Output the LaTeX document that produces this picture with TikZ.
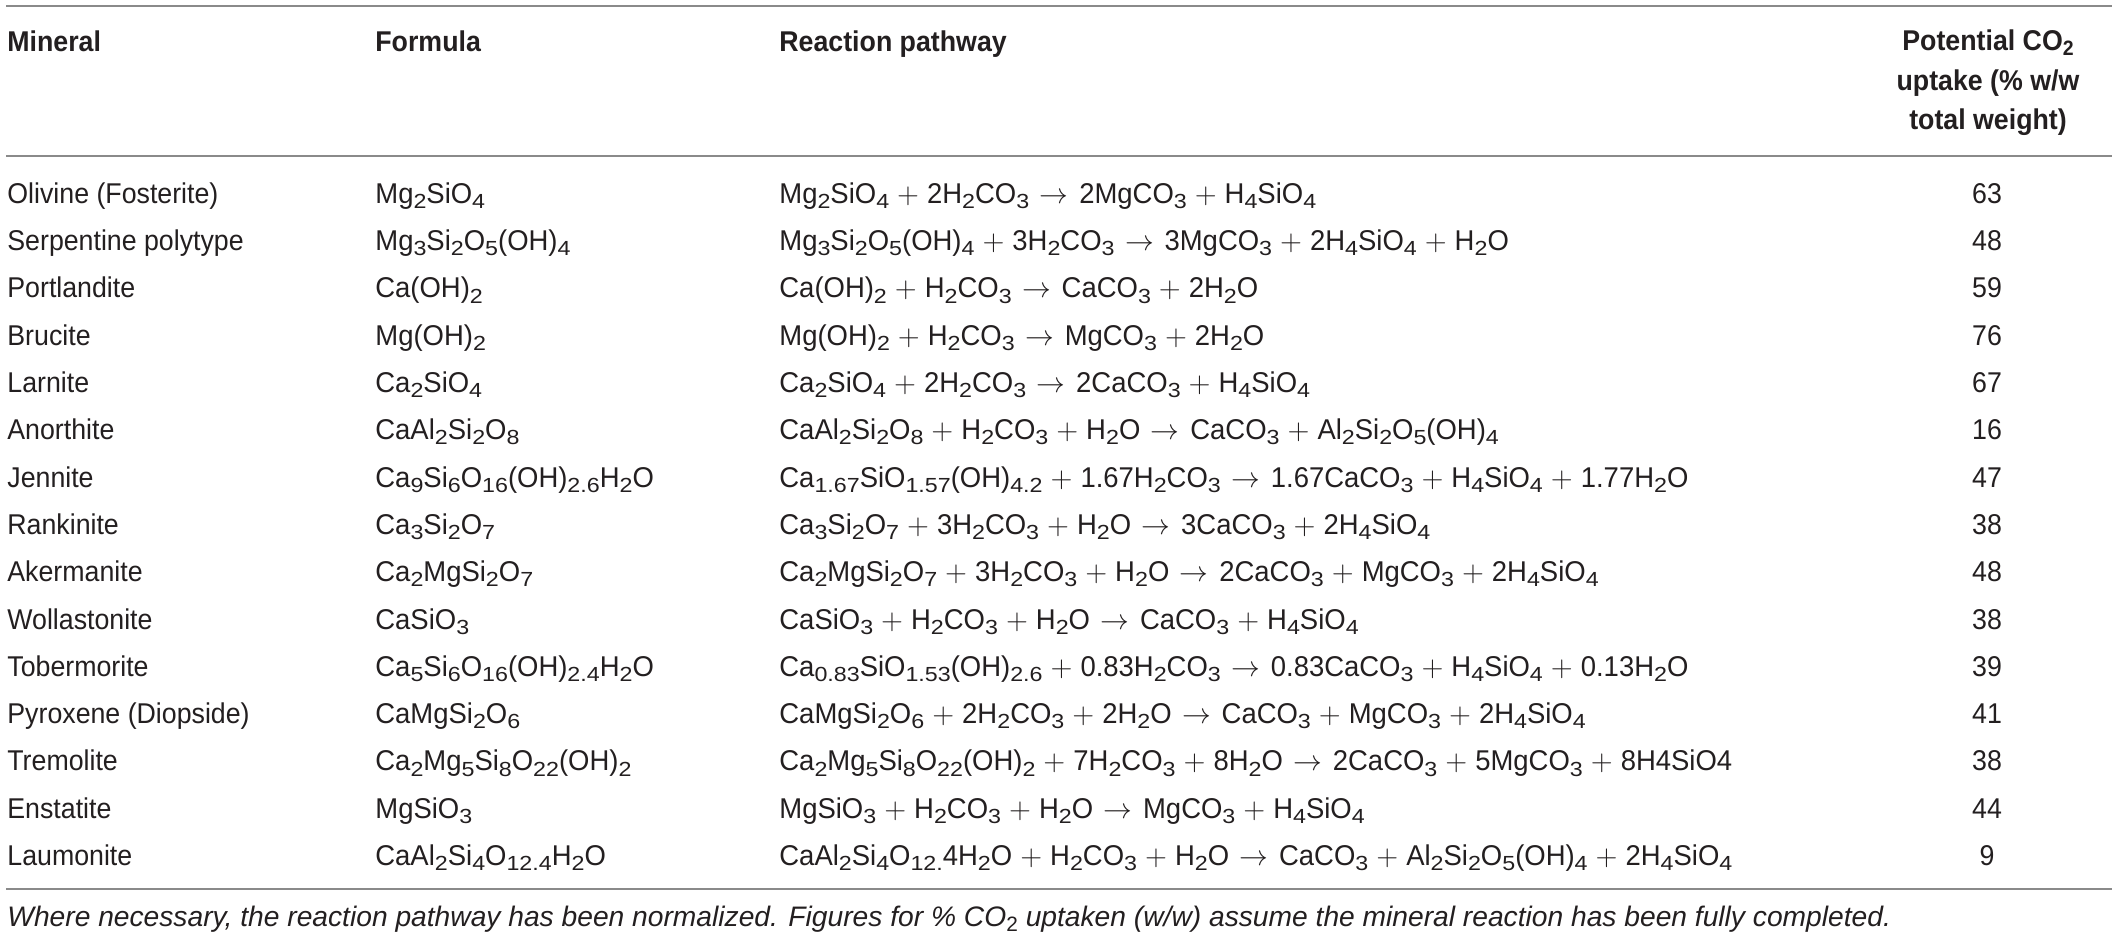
\documentclass[tikz,border=0pt]{standalone}
\usepackage[no-math]{fontspec}
\setmainfont{Liberation Sans}[FakeStretch=0.935]
\newfontfamily\notefam{Liberation Sans}
\newfontfamily\chemfam{Liberation Sans}[FakeStretch=0.96]
\newfontfamily\subfam{Liberation Sans}[FakeStretch=1.14]
\definecolor{txt}{HTML}{231F20}
\definecolor{rulecol}{HTML}{8A8A8A}
\newcommand{\bodyfont}{\fontsize{14.3}{17}\selectfont}
\newcommand{\chemfont}{\chemfam\fontsize{14.3}{17}\selectfont}
\newcommand{\headfont}{\fontsize{14.3}{19.75}\selectfont\bfseries}
\newcommand{\notefont}{\notefam\fontsize{14.1}{16}\selectfont\itshape}
\newcommand{\su}[1]{\raisebox{-0.34ex}{\subfam\fontsize{10.2}{10}\selectfont #1}}
\newcommand{\hsu}[1]{\raisebox{-0.32ex}{\fontsize{10.4}{10}\selectfont\bfseries #1}}
\newcommand{\nsu}[1]{\raisebox{-0.32ex}{\fontsize{10.4}{10}\selectfont\upshape #1}}
\newcommand{\pl}{\hspace{4pt}$+$\hspace{4pt}}
\newcommand{\ar}{\hspace{5.3pt}$\rightarrow$\hspace{5.3pt}}
\newcommand{\trow}[6]{%
  \node[cell] (m#1) at (7,#2) {#3};
  \node[chem] (f#1) at (375,#2) {#4};
  \node[chem] (r#1) at (779,#2) {#5};
  \node[num]  (v#1) at (1987,#2) {#6};}
\tikzset{
  cell/.style={anchor=base west, inner sep=0pt, font=\bodyfont, text=txt},
  chem/.style={anchor=base west, inner sep=0pt, font=\chemfont, text=txt},
  num/.style={anchor=base, inner sep=0pt, font=\bodyfont, text=txt},
  head/.style={anchor=base west, inner sep=0pt, font=\headfont, text=txt},
  tabrule/.style={draw=rulecol, line width=1pt}
}
\begin{document}
\begin{tikzpicture}[x=0.5pt,y=-0.5pt]
\useasboundingbox[fill=white] (0,0) rectangle (2118,938);
% rules
\coordinate (t1) at (6,6);     \coordinate (t2) at (2112,6);
\coordinate (h1) at (6,155.5); \coordinate (h2) at (2112,155.5);
\coordinate (b1) at (6,889.3); \coordinate (b2) at (2112,889.3);
\draw[tabrule] (t1) -- (t2);
\draw[tabrule] (h1) -- (h2);
\draw[tabrule] (b1) -- (b2);
% header
\node[head] (hm) at (7,51) {Mineral};
\node[head] (hf) at (375,51) {Formula};
\node[head] (hr) at (779,51) {Reaction pathway};
\node[anchor=center, inner sep=0pt, font=\headfont, text=txt, align=center] (hv) at (1988,83)
  {Potential CO\hsu{2}\\uptake (\% w/w\\total weight)};
% rows
\trow{1}{203.3}{Olivine (Fosterite)}{Mg\su{2}SiO\su{4}}
  {Mg\su{2}SiO\su{4}\pl 2H\su{2}CO\su{3}\ar 2MgCO\su{3}\pl H\su{4}SiO\su{4}}{63}
\trow{2}{250.6}{Serpentine polytype}{Mg\su{3}Si\su{2}O\su{5}(OH)\su{4}}
  {Mg\su{3}Si\su{2}O\su{5}(OH)\su{4}\pl 3H\su{2}CO\su{3}\ar 3MgCO\su{3}\pl 2H\su{4}SiO\su{4}\pl H\su{2}O}{48}
\trow{3}{297.9}{Portlandite}{Ca(OH)\su{2}}
  {Ca(OH)\su{2}\pl H\su{2}CO\su{3}\ar CaCO\su{3}\pl 2H\su{2}O}{59}
\trow{4}{345.2}{Brucite}{Mg(OH)\su{2}}
  {Mg(OH)\su{2}\pl H\su{2}CO\su{3}\ar MgCO\su{3}\pl 2H\su{2}O}{76}
\trow{5}{392.5}{Larnite}{Ca\su{2}SiO\su{4}}
  {Ca\su{2}SiO\su{4}\pl 2H\su{2}CO\su{3}\ar 2CaCO\su{3}\pl H\su{4}SiO\su{4}}{67}
\trow{6}{439.8}{Anorthite}{CaAl\su{2}Si\su{2}O\su{8}}
  {CaAl\su{2}Si\su{2}O\su{8}\pl H\su{2}CO\su{3}\pl H\su{2}O\ar CaCO\su{3}\pl Al\su{2}Si\su{2}O\su{5}(OH)\su{4}}{16}
\trow{7}{487.1}{Jennite}{Ca\su{9}Si\su{6}O\su{16}(OH)\su{2.6}H\su{2}O}
  {Ca\su{1.67}SiO\su{1.57}(OH)\su{4.2}\pl 1.67H\su{2}CO\su{3}\ar 1.67CaCO\su{3}\pl H\su{4}SiO\su{4}\pl 1.77H\su{2}O}{47}
\trow{8}{534.4}{Rankinite}{Ca\su{3}Si\su{2}O\su{7}}
  {Ca\su{3}Si\su{2}O\su{7}\pl 3H\su{2}CO\su{3}\pl H\su{2}O\ar 3CaCO\su{3}\pl 2H\su{4}SiO\su{4}}{38}
\trow{9}{581.7}{Akermanite}{Ca\su{2}MgSi\su{2}O\su{7}}
  {Ca\su{2}MgSi\su{2}O\su{7}\pl 3H\su{2}CO\su{3}\pl H\su{2}O\ar 2CaCO\su{3}\pl MgCO\su{3}\pl 2H\su{4}SiO\su{4}}{48}
\trow{10}{629.0}{Wollastonite}{CaSiO\su{3}}
  {CaSiO\su{3}\pl H\su{2}CO\su{3}\pl H\su{2}O\ar CaCO\su{3}\pl H\su{4}SiO\su{4}}{38}
\trow{11}{676.3}{Tobermorite}{Ca\su{5}Si\su{6}O\su{16}(OH)\su{2.4}H\su{2}O}
  {Ca\su{0.83}SiO\su{1.53}(OH)\su{2.6}\pl 0.83H\su{2}CO\su{3}\ar 0.83CaCO\su{3}\pl H\su{4}SiO\su{4}\pl 0.13H\su{2}O}{39}
\trow{12}{723.6}{Pyroxene (Diopside)}{CaMgSi\su{2}O\su{6}}
  {CaMgSi\su{2}O\su{6}\pl 2H\su{2}CO\su{3}\pl 2H\su{2}O\ar CaCO\su{3}\pl MgCO\su{3}\pl 2H\su{4}SiO\su{4}}{41}
\trow{13}{770.9}{Tremolite}{Ca\su{2}Mg\su{5}Si\su{8}O\su{22}(OH)\su{2}}
  {Ca\su{2}Mg\su{5}Si\su{8}O\su{22}(OH)\su{2}\pl 7H\su{2}CO\su{3}\pl 8H\su{2}O\ar 2CaCO\su{3}\pl 5MgCO\su{3}\pl 8H4SiO4}{38}
\trow{14}{818.2}{Enstatite}{MgSiO\su{3}}
  {MgSiO\su{3}\pl H\su{2}CO\su{3}\pl H\su{2}O\ar MgCO\su{3}\pl H\su{4}SiO\su{4}}{44}
\trow{15}{865.5}{Laumonite}{CaAl\su{2}Si\su{4}O\su{12.4}H\su{2}O}
  {CaAl\su{2}Si\su{4}O\su{12.}4H\su{2}O\pl H\su{2}CO\su{3}\pl H\su{2}O\ar CaCO\su{3}\pl Al\su{2}Si\su{2}O\su{5}(OH)\su{4}\pl 2H\su{4}SiO\su{4}}{9}
% footnote
\node[anchor=base west, inner sep=0pt, font=\notefont, text=txt] (note) at (7,926.7)
  {Where necessary, the reaction pathway has been normalized. Figures for \% CO\nsu{2} uptaken (w/w) assume the mineral reaction has been fully completed.};
\end{tikzpicture}
\end{document}
